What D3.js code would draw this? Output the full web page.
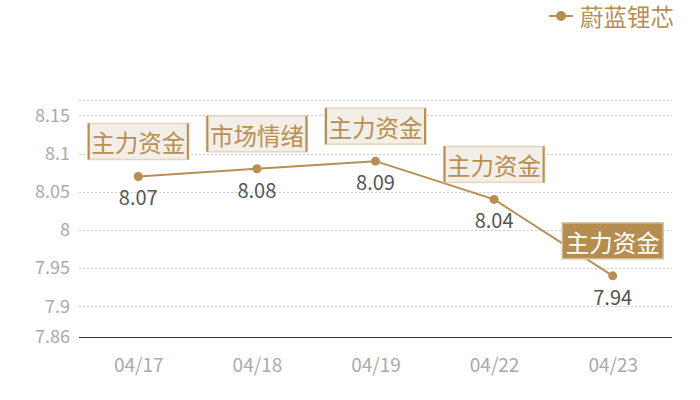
<!DOCTYPE html>
<html>
<head>
<meta charset="utf-8">
<script src="https://cdn.jsdelivr.net/npm/d3@7"></script>
<style>
  body { margin: 0; background: #fff; }
  svg text { font-family: "Noto Sans CJK SC", "Noto Sans", sans-serif; }
</style>
</head>
<body>
<svg id="chart" width="700" height="400"></svg>
<script>
// data
var dates = ['04/17', '04/18', '04/19', '04/22', '04/23'];
var prices = [8.07, 8.08, 8.09, 8.04, 7.94];
var tags = ['主力资金', '市场情绪', '主力资金', '主力资金', '主力资金'];
var highlight = [false, false, false, false, true];
var yTicks = [7.86, 7.9, 7.95, 8, 8.05, 8.1, 8.15];
var yMin = 7.86, yMax = 8.17;
var seriesName = '蔚蓝锂芯';

var gold = '#b78f52';

var svg = d3.select('#chart');
// plot area (note: "top" is taken by window.top, so use other names)
var plotL = 79, plotR = 672, plotT = 100, plotB = 337;

var x = d3.scalePoint().domain(dates).range([plotL, plotR]).padding(0.5);
var y = d3.scaleLinear().domain([yMin, yMax]).range([plotB, plotT]);

// grid lines (dashed) + top line
var gridVals = yTicks.slice(1).concat([yMax]);
svg.append('g').selectAll('line').data(gridVals).enter().append('line')
  .attr('x1', plotL).attr('x2', plotR)
  .attr('y1', function(d){ return Math.round(y(d)) + 0.5; })
  .attr('y2', function(d){ return Math.round(y(d)) + 0.5; })
  .attr('stroke', '#cccccc')
  .attr('stroke-dasharray', '2,2');

// y axis labels
var yAxis = d3.axisLeft(y).tickValues(yTicks).tickSize(0).tickPadding(9)
  .tickFormat(function(d){ return String(+d.toFixed(2)); });
var ga = svg.append('g').attr('transform', 'translate(' + plotL + ',0)').call(yAxis);
ga.select('.domain').remove();
ga.selectAll('text').attr('fill', '#aaa').style('font-size', '18px');

// x axis line + labels
svg.append('line')
  .attr('x1', plotL).attr('x2', plotR)
  .attr('y1', plotB + 0.5).attr('y2', plotB + 0.5)
  .attr('stroke', '#333').attr('stroke-width', 1.2);
var xAxis = d3.axisBottom(x).tickSize(0).tickPadding(22);
var gx = svg.append('g').attr('transform', 'translate(0,' + plotB + ')').call(xAxis);
gx.select('.domain').remove();
gx.selectAll('text').attr('fill', '#aaa').style('font-size', '19px');

// line
var line = d3.line()
  .x(function(d, i){ return x(dates[i]); })
  .y(function(d){ return y(d); });
svg.append('path').datum(prices)
  .attr('d', line)
  .attr('fill', 'none')
  .attr('stroke', gold)
  .attr('stroke-width', 2);

svg.append('g').selectAll('circle').data(prices).enter().append('circle')
  .attr('cx', function(d, i){ return x(dates[i]); })
  .attr('cy', function(d){ return y(d); })
  .attr('r', 4.5)
  .attr('fill', gold);

// value labels
svg.append('g').selectAll('text').data(prices).enter().append('text')
  .attr('x', function(d, i){ return x(dates[i]); })
  .attr('y', function(d){ return y(d) + 29; })
  .attr('text-anchor', 'middle')
  .attr('fill', '#555')
  .style('font-size', '20px')
  .text(function(d){ return d.toFixed(2); });

// tag boxes above the points
var bw = 101, bh = 36;
var tg = svg.append('g').selectAll('g').data(prices).enter().append('g')
  .attr('transform', function(d, i){
    return 'translate(' + (x(dates[i]) - bw / 2) + ',' + (y(d) - 17 - bh) + ')';
  });
tg.append('rect')
  .attr('width', bw).attr('height', bh)
  .attr('fill', function(d, i){ return highlight[i] ? '#b58d50' : '#f3eee7'; })
  .attr('stroke', function(d, i){ return highlight[i] ? '#d9c29c' : '#e3d5bf'; })
  .attr('stroke-width', 1.5);
tg.each(function(d, i){
  if (highlight[i]) return;
  var g = d3.select(this);
  g.append('line').attr('x1', 1).attr('x2', 1).attr('y1', 0).attr('y2', bh)
    .attr('stroke', gold).attr('stroke-width', 2);
  g.append('line').attr('x1', bw - 1).attr('x2', bw - 1).attr('y1', 0).attr('y2', bh)
    .attr('stroke', gold).attr('stroke-width', 2);
});
tg.append('text')
  .attr('x', bw / 2).attr('y', bh / 2 + 1)
  .attr('text-anchor', 'middle')
  .attr('dominant-baseline', 'central')
  .attr('fill', function(d, i){ return highlight[i] ? '#fff' : gold; })
  .style('font-size', '23.5px')
  .text(function(d, i){ return tags[i]; });

// legend
var lg = svg.append('g').attr('transform', 'translate(549,16)');
lg.append('line').attr('x1', 0).attr('x2', 24).attr('stroke', gold).attr('stroke-width', 2);
lg.append('circle').attr('cx', 12).attr('r', 5).attr('fill', gold);
lg.append('text').attr('x', 31).attr('y', 0)
  .attr('dominant-baseline', 'central')
  .attr('fill', gold)
  .style('font-size', '23.5px')
  .text(seriesName);
</script>
</body>
</html>
